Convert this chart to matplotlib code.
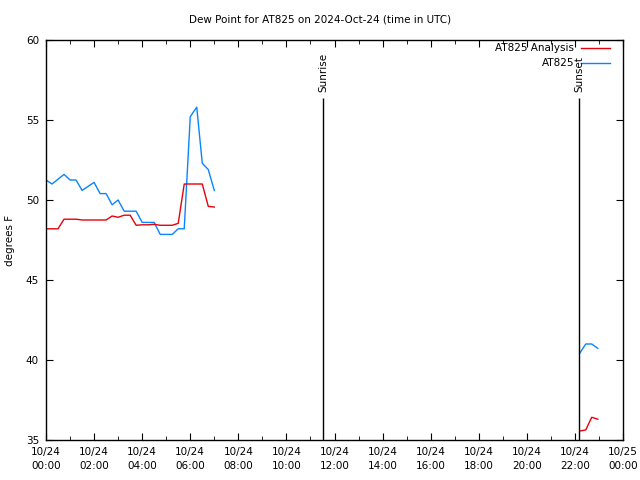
import numpy as np
import matplotlib
matplotlib.use("Agg")
from matplotlib import pyplot as plt
from matplotlib.ticker import MultipleLocator

TITLE = "Dew Point for AT825 on 2024-Oct-24 (time in UTC)"

# hours after 2024-10-24 00:00 UTC
hours_obs = [0.0, 0.25, 0.5, 0.75, 1.0, 1.25, 1.5, 1.75, 2.0, 2.25, 2.5, 2.75, 3.0, 3.25,
             3.5, 3.75, 4.0, 4.25, 4.5, 4.75, 5.0, 5.25, 5.5, 5.75, 6.0, 6.13, 6.27, 6.5,
             6.75, 7.0]
dew_obs = [51.25, 51.0, 51.3, 51.6, 51.25, 51.25, 50.6, 50.85, 51.1, 50.4, 50.4, 49.7,
           50.0, 49.3, 49.3, 49.3, 48.6, 48.6, 48.6, 47.85, 47.85, 47.85, 48.2, 48.2,
           55.2, 55.5, 55.8, 52.3, 51.9, 50.6]

hours_ana = [0.0, 0.25, 0.5, 0.75, 1.0, 1.25, 1.5, 1.75, 2.0, 2.25, 2.5, 2.75, 3.0, 3.25,
             3.5, 3.75, 4.0, 4.25, 4.5, 4.75, 5.0, 5.25, 5.5, 5.75, 6.0, 6.25, 6.5, 6.75,
             7.0]
dew_ana = [48.2, 48.2, 48.2, 48.8, 48.8, 48.8, 48.75, 48.75, 48.75, 48.75, 48.75, 49.0,
           48.92, 49.05, 49.05, 48.42, 48.45, 48.45, 48.48, 48.42, 48.42, 48.42, 48.54,
           51.0, 51.0, 51.0, 51.0, 49.6, 49.56]

hours_obs2 = [22.2, 22.45, 22.7, 22.95]
dew_obs2 = [40.42, 41.0, 41.0, 40.73]
hours_ana2 = [22.2, 22.45, 22.7, 22.95]
dew_ana2 = [35.56, 35.63, 36.42, 36.3]

sunrise = 11.54
sunset = 22.19
sun_top = 56.4

x_ticks = list(range(0, 25, 2))
x_labels = [("10/25\n00:00" if h == 24 else f"10/24\n{h:02d}:00") for h in x_ticks]

RED = "#e8000b"
BLUE = "#0a84ff"

plt.rcParams["font.family"] = "DejaVu Sans"
plt.rcParams["font.size"] = 7.5

fig = plt.figure(figsize=(6.4, 4.8), dpi=100)
ax = fig.add_axes([46 / 640, 40 / 480, 577 / 640, 400 / 480])

ax.plot(hours_obs, dew_obs, color=BLUE, lw=1)
ax.plot(hours_ana, dew_ana, color=RED, lw=1)
ax.plot(hours_obs2, dew_obs2, color=BLUE, lw=1)
ax.plot(hours_ana2, dew_ana2, color=RED, lw=1)

ax.vlines([sunrise, sunset], 35, sun_top, colors="black", lw=1)
ax.text(sunrise, 56.75, "Sunrise", rotation=90, ha="center", va="bottom")
ax.text(sunset, 56.75, "Sunset", rotation=90, ha="center", va="bottom")

ax.set_xlim(0, 24)
ax.set_ylim(35, 60)
ax.set_xticks(x_ticks)
ax.set_xticklabels(x_labels, linespacing=1.5)
ax.xaxis.set_minor_locator(MultipleLocator(1))
ax.set_yticks(range(35, 61, 5))
ax.tick_params(which="both", direction="in", top=True, right=True, pad=5)
ax.tick_params(which="major", length=5)
ax.tick_params(which="minor", length=3)
for s in ax.spines.values():
    s.set_linewidth(1)

ax.set_ylabel("degrees F")
ax.yaxis.set_label_coords(-0.053, 0.5)
fig.text(0.5, 1 - 19 / 480, TITLE, ha="center", va="center")

# legend drawn gnuplot style: right-aligned text, sample line to the right
for yy, lab, col in [(0.98, "AT825 Analysis", RED), (0.9425, "AT825", BLUE)]:
    ax.text(0.915, yy, lab, transform=ax.transAxes, ha="right", va="center")
    ax.plot([0.927, 0.977], [yy, yy], transform=ax.transAxes, color=col, lw=1)

fig.savefig("out.png", dpi=100)
